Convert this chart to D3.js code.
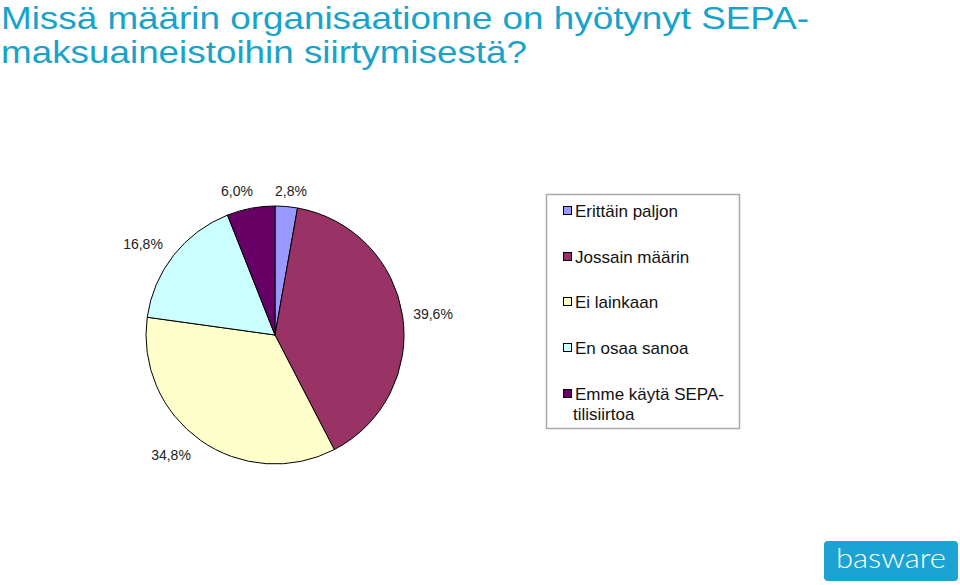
<!DOCTYPE html>
<html><head><meta charset="utf-8">
<script src="https://cdn.jsdelivr.net/npm/d3@7"></script>
<style>body{margin:0;background:#fff}svg{display:block}</style>
</head><body>
<script>
const categories = ["Erittäin paljon","Jossain määrin","Ei lainkaan","En osaa sanoa","Emme käytä SEPA-tilisiirtoa"];
const values = [2.8, 39.6, 34.8, 16.8, 6.0];
const valueLabels = ["2,8%","39,6%","34,8%","16,8%","6,0%"];
const colors = ["#9999FF","#993366","#FFFFCC","#CCFFFF","#660066"];
const legendLines = [["Erittäin paljon"],["Jossain määrin"],["Ei lainkaan"],["En osaa sanoa"],["Emme käytä SEPA-","tilisiirtoa"]];

const W=960,H=585;
const svg=d3.select("body").append("svg").attr("width",W).attr("height",H);
const font="Liberation Sans, Arial, sans-serif";

// title
const titleLines=["Missä määrin organisaationne on hyötynyt SEPA-","maksuaineistoihin siirtymisestä?"];
const tl=[808,526];
const tb=[29,63];
titleLines.forEach((t,i)=>{
  svg.append("text").attr("x",1).attr("y",tb[i]).text(t)
    .attr("font-family",font).attr("font-size",32).attr("fill","#18A3CB")
    .attr("textLength",tl[i]).attr("lengthAdjust","spacingAndGlyphs");
});

// pie
const cx=275,cy=335,r=129;
const pie=d3.pie().sort(null).value(d=>d)(values);
const arc=d3.arc().innerRadius(0).outerRadius(r);
const g=svg.append("g").attr("transform",`translate(${cx},${cy})`);
g.selectAll("path").data(pie).join("path").attr("d",arc)
  .attr("fill",(d,i)=>colors[i]).attr("stroke","#000").attr("stroke-width",1);

const labelPos=[[291,191],[433,314],[171,455],[143,244],[237,191]];
valueLabels.forEach((t,i)=>{
  svg.append("text").attr("x",labelPos[i][0]).attr("y",labelPos[i][1]+5).text(t)
   .attr("text-anchor","middle").attr("font-family",font).attr("font-size",14).attr("fill","#222");
});

// legend
svg.append("rect").attr("x",546.5).attr("y",194.5).attr("width",193).attr("height",234)
  .attr("fill","#fff").attr("stroke","#aaa").attr("stroke-width",1.5);
const ly=[211,257,302,348,394];
legendLines.forEach((lines,i)=>{
  svg.append("rect").attr("x",563.5).attr("y",ly[i]-4.5).attr("width",8).attr("height",8)
   .attr("fill",colors[i]).attr("stroke","#000").attr("stroke-width",1);
  lines.forEach((t,j)=>{
    svg.append("text").attr("x",j==0?575:573).attr("y",ly[i]+6+j*20).text(t)
     .attr("font-family",font).attr("font-size",17).attr("fill","#111");
  });
});

// logo
svg.append("rect").attr("x",824).attr("y",541).attr("width",134).attr("height",40).attr("rx",4)
  .attr("fill","#1CA3D3");
svg.append("text").attr("x",836).attr("y",568).text("basware")
  .attr("font-family","Lato, Open Sans, sans-serif").attr("font-weight",300).attr("font-size",27).attr("fill","#fff")
  .attr("textLength",110).attr("lengthAdjust","spacingAndGlyphs");
</script>
</body></html>
